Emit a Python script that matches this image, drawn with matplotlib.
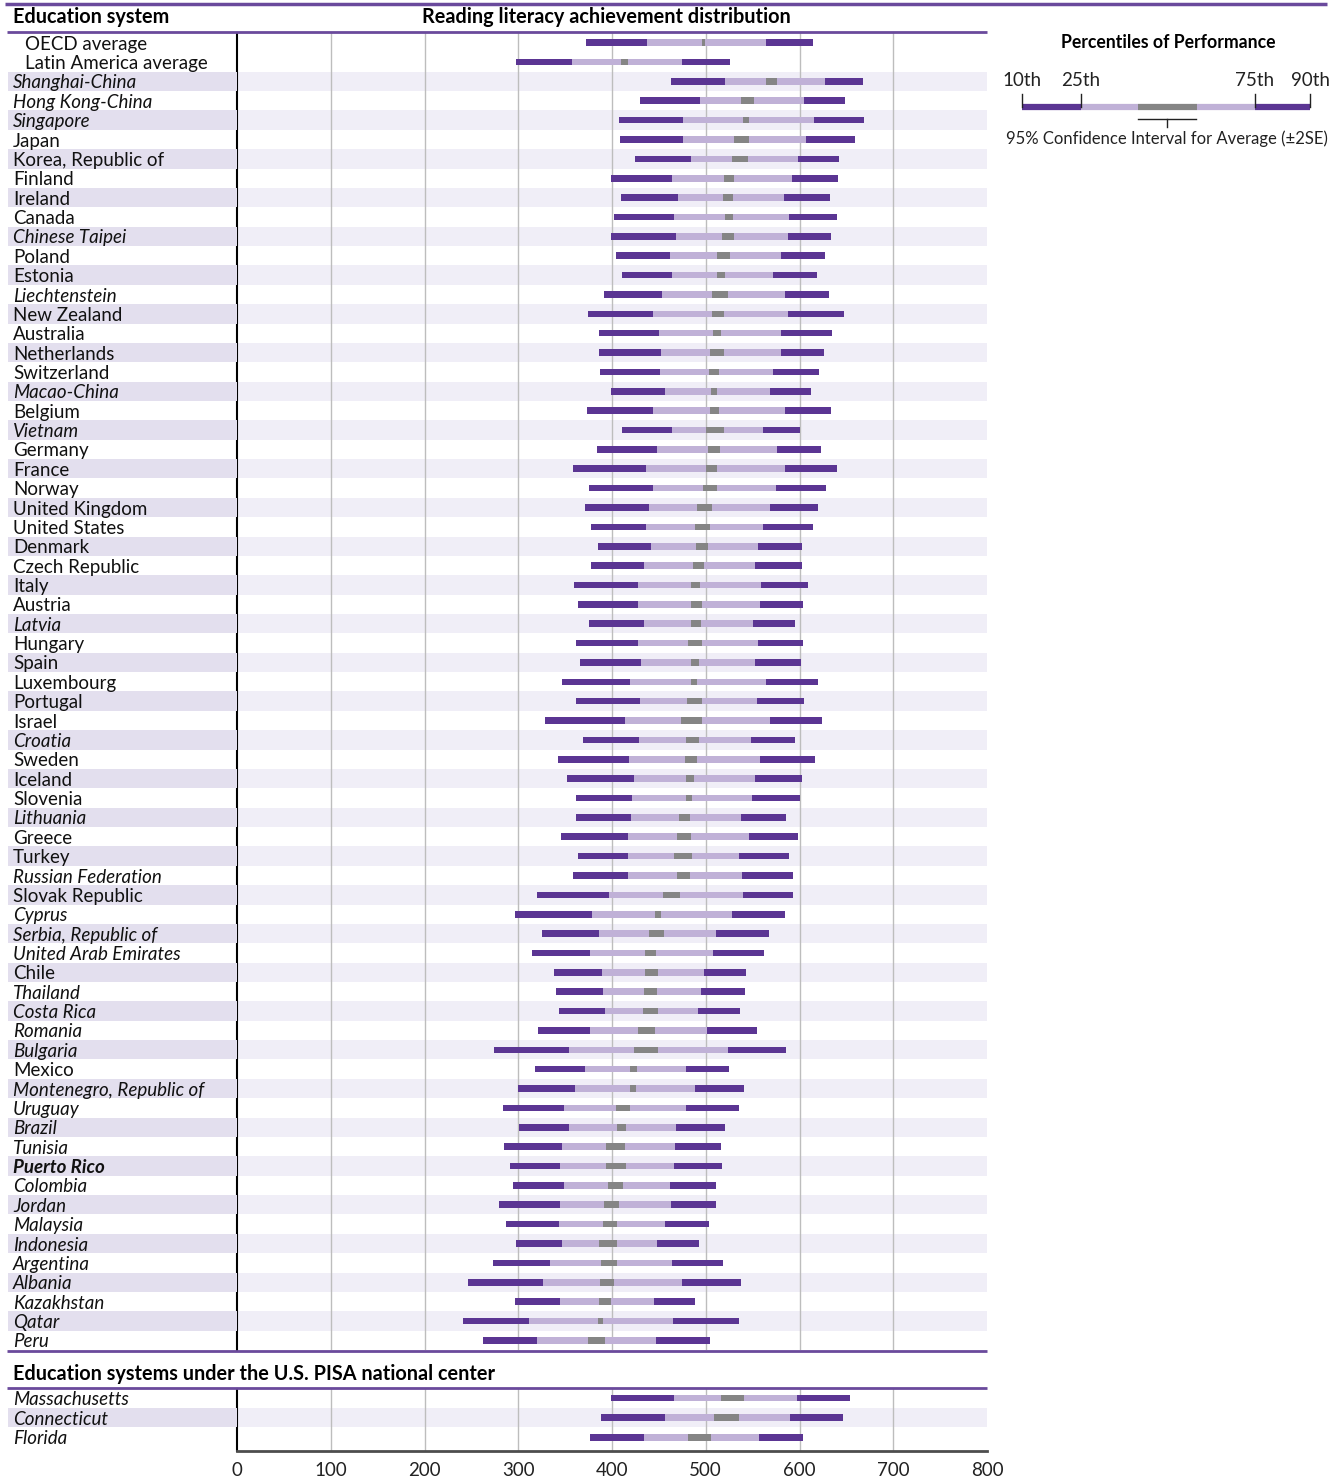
import numpy as np
import matplotlib.pyplot as plt

plt.rcParams['font.family'] = ['Lato', 'DejaVu Sans']

# main panel: averages + education systems, top to bottom
countries = [
    "OECD average", "Latin America average", "Shanghai-China", "Hong Kong-China",
    "Singapore", "Japan", "Korea, Republic of", "Finland", "Ireland", "Canada",
    "Chinese Taipei", "Poland", "Estonia", "Liechtenstein", "New Zealand",
    "Australia", "Netherlands", "Switzerland", "Macao-China", "Belgium",
    "Vietnam", "Germany", "France", "Norway", "United Kingdom", "United States",
    "Denmark", "Czech Republic", "Italy", "Austria", "Latvia", "Hungary", "Spain",
    "Luxembourg", "Portugal", "Israel", "Croatia", "Sweden", "Iceland",
    "Slovenia", "Lithuania", "Greece", "Turkey", "Russian Federation",
    "Slovak Republic", "Cyprus", "Serbia, Republic of", "United Arab Emirates",
    "Chile", "Thailand", "Costa Rica", "Romania", "Bulgaria", "Mexico",
    "Montenegro, Republic of", "Uruguay", "Brazil", "Tunisia", "Puerto Rico",
    "Colombia", "Jordan", "Malaysia", "Indonesia", "Argentina", "Albania",
    "Kazakhstan", "Qatar", "Peru",
]
p10 = [372, 298, 463, 430, 407, 409, 424, 399, 410, 402, 399, 404, 411, 391,
       374, 386, 386, 387, 399, 373, 411, 384, 358, 375, 371, 378, 385, 378,
       359, 364, 375, 362, 366, 347, 362, 328, 369, 342, 352, 362, 362, 346,
       364, 358, 320, 296, 325, 315, 338, 340, 343, 321, 274, 318, 300, 284,
       301, 285, 291, 294, 279, 287, 298, 273, 246, 296, 241, 262]
p25 = [437, 357, 520, 494, 476, 476, 484, 464, 470, 466, 468, 462, 464, 453,
       444, 450, 452, 451, 457, 444, 464, 448, 436, 444, 439, 436, 442, 434,
       428, 428, 434, 428, 431, 419, 430, 414, 429, 418, 423, 421, 420, 417,
       417, 417, 397, 379, 386, 377, 389, 390, 392, 376, 354, 371, 361, 349,
       354, 347, 345, 349, 344, 343, 347, 334, 326, 344, 311, 320]
ci_lo = [496, 410, 564, 538, 540, 530, 528, 519, 518, 520, 517, 512, 512, 507,
         507, 508, 504, 503, 506, 504, 500, 502, 500, 497, 491, 488, 490, 486,
         484, 484, 484, 481, 484, 484, 480, 474, 479, 478, 479, 479, 471, 469,
         466, 469, 454, 446, 439, 435, 435, 434, 433, 428, 423, 419, 419, 404,
         405, 394, 394, 396, 391, 390, 386, 388, 387, 386, 385, 374]
ci_hi = [499, 417, 576, 551, 546, 546, 545, 530, 529, 529, 530, 526, 521, 524,
         519, 516, 519, 514, 512, 514, 519, 515, 512, 512, 507, 505, 502, 498,
         494, 496, 495, 496, 493, 491, 496, 496, 493, 491, 487, 485, 483, 484,
         485, 483, 473, 452, 455, 447, 449, 448, 449, 446, 449, 427, 426, 419,
         415, 414, 415, 412, 407, 405, 405, 405, 402, 399, 390, 393]
p75 = [564, 475, 627, 605, 615, 607, 598, 592, 583, 589, 588, 580, 572, 585,
       588, 580, 580, 572, 568, 584, 561, 576, 585, 575, 568, 561, 556, 553,
       559, 558, 550, 556, 553, 564, 555, 568, 548, 558, 552, 549, 538, 546,
       535, 539, 540, 528, 511, 508, 498, 495, 492, 501, 524, 479, 488, 479,
       468, 467, 466, 462, 463, 457, 448, 464, 475, 445, 465, 447]
p90 = [614, 526, 668, 648, 669, 659, 642, 641, 632, 640, 634, 627, 619, 631,
       647, 635, 626, 621, 612, 634, 601, 623, 640, 628, 620, 614, 603, 603,
       609, 604, 595, 604, 602, 620, 605, 624, 595, 616, 603, 600, 586, 598,
       589, 593, 593, 584, 567, 562, 543, 542, 537, 555, 586, 525, 541, 535,
       520, 516, 517, 511, 511, 503, 493, 518, 538, 488, 535, 504]

# U.S. states with separate samples
states = ["Massachusetts", "Connecticut", "Florida"]
st_p10 = [399, 388, 377]
st_p25 = [466, 456, 434]
st_ci_lo = [516, 509, 481]
st_ci_hi = [541, 535, 506]
st_p75 = [597, 590, 557]
st_p90 = [654, 646, 604]

italic_names = {
    "Shanghai-China", "Hong Kong-China", "Singapore", "Chinese Taipei",
    "Liechtenstein", "Macao-China", "Vietnam", "Latvia", "Croatia", "Lithuania",
    "Russian Federation", "Cyprus", "Serbia, Republic of", "United Arab Emirates",
    "Thailand", "Costa Rica", "Romania", "Bulgaria", "Montenegro, Republic of",
    "Uruguay", "Brazil", "Tunisia", "Puerto Rico", "Colombia", "Jordan",
    "Malaysia", "Indonesia", "Argentina", "Albania", "Kazakhstan", "Qatar",
    "Peru", "Massachusetts", "Connecticut", "Florida",
}
bold_names = {"Puerto Rico"}
indented_names = {"OECD average", "Latin America average"}

DARK = '#5b3593'
LIGHT = '#c0b1d7'
GRAY = '#858585'
SHADE_PLOT = '#f0eef7'
SHADE_LAB = '#e3dfee'
PURPLE_LINE = '#6a4a9c'
FS = 13.5
FS_HEAD = 14.3

W, H = 1344, 1479
fig = plt.figure(figsize=(W / 100, H / 100), dpi=100)


def px_rect(x0, y0, x1, y1):
    return [x0 / W, 1 - y1 / H, (x1 - x0) / W, (y1 - y0) / H]


def draw_rows(ax, lab_ax, names, a, b, c, d, e, f, ylim, shade_rows):
    y = np.arange(len(names))
    for i in shade_rows:
        ax.axhspan(i - 0.5, i + 0.5, color=SHADE_PLOT, lw=0, zorder=0)
        lab_ax.axhspan(i - 0.5, i + 0.5, color=SHADE_LAB, lw=0, zorder=0)
    for g in range(100, 800, 100):
        ax.axvline(g, color='#bdbdbd', lw=1, zorder=1)
    a, b, c, d, e, f = map(np.asarray, (a, b, c, d, e, f))
    segs = [(a, b, DARK), (b, c, LIGHT), (c, d, GRAY), (d, e, LIGHT), (e, f, DARK)]
    for lo, hi, col in segs:
        ax.barh(y, hi - lo, left=lo, height=0.34, color=col, lw=0, zorder=2)
    ax.set_xlim(0, 800)
    ax.set_ylim(*ylim)
    ax.set_yticks([])
    for s in ['top', 'right', 'bottom']:
        ax.spines[s].set_visible(False)
    ax.spines['left'].set_color('black')
    ax.spines['left'].set_linewidth(1.5)
    ax.set_facecolor('none')

    lab_ax.set_xlim(0, 229)
    lab_ax.set_ylim(*ylim)
    lab_ax.axis('off')
    for i, name in enumerate(names):
        x = 17 if name in indented_names else 5
        style = 'italic' if name in italic_names else 'normal'
        weight = 'bold' if name in bold_names else 'normal'
        lab_ax.text(x, i + 0.08, name, fontsize=FS, style=style, weight=weight,
                    va='center', ha='left', color='#111111')


ax_main = fig.add_axes(px_rect(237, 33, 987, 1350))
ax_lab = fig.add_axes(px_rect(8, 33, 237, 1350))
n = len(countries)
draw_rows(ax_main, ax_lab, countries, p10, p25, ci_lo, ci_hi, p75, p90,
          (n - 0.5, -0.5), range(2, n, 2))
ax_main.set_xticks([])

ax_us = fig.add_axes(px_rect(237, 1389, 987, 1451))
ax_us_lab = fig.add_axes(px_rect(8, 1389, 237, 1451))
draw_rows(ax_us, ax_us_lab, states, st_p10, st_p25, st_ci_lo, st_ci_hi,
          st_p75, st_p90, (2.7, -0.46), [1])
ax_us.spines['bottom'].set_visible(True)
ax_us.spines['bottom'].set_color('#4d4d4d')
ax_us.spines['bottom'].set_linewidth(2)
ax_us.set_xticks(range(0, 801, 100))
ax_us.tick_params(axis='x', length=0, pad=8, labelsize=FS, labelcolor='#222222')

# header rules, titles and the legend, laid out in pixel coordinates
ov = fig.add_axes([0, 0, 1, 1])
ov.set_xlim(0, W)
ov.set_ylim(H, 0)
ov.axis('off')
ov.patch.set_alpha(0)

ov.plot([5, 1327], [4, 4], color=PURPLE_LINE, lw=2.5, solid_capstyle='butt')
ov.plot([7, 987], [31.5, 31.5], color=PURPLE_LINE, lw=2, solid_capstyle='butt')
ov.plot([7, 987], [1351, 1351], color=PURPLE_LINE, lw=2, solid_capstyle='butt')
ov.plot([7, 987], [1388, 1388], color=PURPLE_LINE, lw=2, solid_capstyle='butt')

ov.text(13, 17, "Education system", fontsize=FS_HEAD, weight='bold', va='center')
ov.text(606, 17, "Reading literacy achievement distribution", fontsize=FS_HEAD,
        weight='bold', va='center', ha='center')
ov.text(13, 1374, "Education systems under the U.S. PISA national center",
        fontsize=FS_HEAD, weight='bold', va='center')

# legend
ov.text(1168, 42, "Percentiles of Performance", fontsize=12.7, weight='bold',
        va='center', ha='center')
leg_x = [1022, 1081, 1138, 1197, 1255, 1310]
leg_cols = [DARK, LIGHT, GRAY, LIGHT, DARK]
for x0, x1, col in zip(leg_x[:-1], leg_x[1:], leg_cols):
    ov.plot([x0, x1], [107, 107], color=col, lw=4.5, solid_capstyle='butt')
for x, lab in zip([1022, 1081, 1255, 1310], ["10th", "25th", "75th", "90th"]):
    ov.plot([x, x], [94, 107], color='#222222', lw=1)
    ov.text(x, 80, lab, fontsize=FS, ha='center', va='center', color='#222222')
ov.plot([1138, 1196], [119, 119], color='#222222', lw=1)
ov.plot([1167, 1167], [119, 127], color='#222222', lw=1)
ov.text(1167, 139, "95% Confidence Interval for Average (\u00b12SE)", fontsize=12,
        ha='center', va='center', color='#222222')

fig.savefig('out.png', dpi=100, facecolor='white')
